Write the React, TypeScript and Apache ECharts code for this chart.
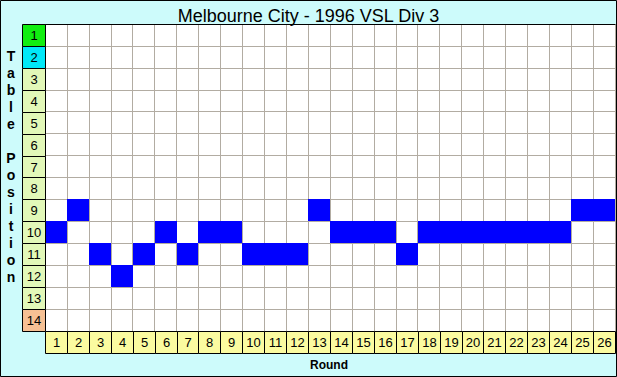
import React, { useEffect, useRef } from "react";
import * as echarts from "echarts";

const rounds: string[] = Array.from({ length: 26 }, (_, i) => String(i + 1));
const positions: string[] = Array.from({ length: 14 }, (_, i) => String(i + 1));
// Table position after each round
const tablePosition: number[] = [10, 9, 11, 12, 11, 10, 11, 10, 10, 11, 11, 11, 9, 10, 10, 10, 11, 10, 10, 10, 10, 10, 10, 10, 9, 9];
const positionColors: string[] = [
  "#11ee11", "#00e8f8", "#e2f8b8", "#e2f8b8", "#e2f8b8", "#e2f8b8", "#e2f8b8",
  "#e2f8b8", "#e2f8b8", "#e2f8b8", "#e2f8b8", "#e2f8b8", "#e2f8b8", "#f6c094",
];
const roundColor = "#fbfba0";
const titleText = "Melbourne City - 1996 VSL Div 3";
const yTitle = "Table Position";
const xTitle = "Round";

const FONT = "Liberation Sans, Arial, sans-serif";

function cellRender(getFill: (idx: number) => string, getText: (idx: number) => string, stroke: string | null) {
  return (params: any, api: any) => {
    const x = api.value(0);
    const y = api.value(1);
    const c = api.coord([x, y]);
    const s = api.size([1, 1]);
    const idx = params.dataIndex;
    const x0 = Math.round(c[0] - s[0] / 2) + (stroke ? 0.5 : 0);
    const y0 = Math.round(c[1] - s[1] / 2) + (stroke ? 0.5 : 0);
    const w = Math.round(c[0] + s[0] / 2) - Math.round(c[0] - s[0] / 2);
    const h = Math.round(c[1] + s[1] / 2) - Math.round(c[1] - s[1] / 2);
    const txt = getText(idx);
    return {
      type: "rect",
      shape: { x: x0, y: y0, width: w, height: h },
      style: stroke
        ? { fill: getFill(idx), stroke, lineWidth: 1 }
        : { fill: getFill(idx) },
      textContent: txt
        ? { style: { text: txt, fill: "#000", font: `13px ${FONT}` } }
        : undefined,
      textConfig: txt ? { position: "inside" } : undefined,
    };
  };
}

export default function App() {
  const ref = useRef<HTMLDivElement>(null);
  useEffect(() => {
    if (!ref.current) return;
    const chart = echarts.init(ref.current, null, { renderer: "svg" });
    const blueData = tablePosition.map((p, i) => [String(i + 1), String(p)]);
    const leftData = positions.map((p) => ["0", p]);
    const bottomData = rounds.map((r) => [r, "0"]);
    const gridLine = { show: true, interval: 0, lineStyle: { color: "#b2aca2", width: 1 } };
    const letters = yTitle.split("").map((ch) => (ch === " " ? "\u00a0" : ch));
    chart.setOption({
      animation: false,
      backgroundColor: "#cdfbfb",
      title: {
        text: titleText,
        left: "center",
        top: 2,
        textStyle: { fontFamily: FONT, fontSize: 18, fontWeight: "normal", color: "#000" },
      },
      grid: [
        { left: 45, top: 24, width: 570, height: 307, backgroundColor: "#fff", show: true, borderWidth: 0 },
        { left: 22, top: 24, width: 23, height: 307 },
        { left: 45, top: 331, width: 570, height: 22 },
      ],
      xAxis: [
        {
          gridIndex: 0, type: "category", data: rounds, position: "top",
          axisLine: { show: true, lineStyle: { color: "#000", width: 1 } },
          axisTick: { show: false }, axisLabel: { show: false }, splitLine: gridLine,
        },
        { gridIndex: 1, type: "category", data: ["0"], show: false },
        { gridIndex: 2, type: "category", data: rounds, show: false },
      ],
      yAxis: [
        {
          gridIndex: 0, type: "category", data: positions, inverse: true,
          axisLine: { show: false }, axisTick: { show: false }, axisLabel: { show: false }, splitLine: gridLine,
        },
        { gridIndex: 1, type: "category", data: positions, inverse: true, show: false },
        { gridIndex: 2, type: "category", data: ["0"], show: false },
      ],
      series: [
        {
          type: "custom", xAxisIndex: 0, yAxisIndex: 0, data: blueData,
          renderItem: cellRender(() => "#0000ff", () => "", null),
        },
        {
          type: "custom", xAxisIndex: 1, yAxisIndex: 1, data: leftData,
          renderItem: cellRender((i) => positionColors[i], (i) => positions[i], "#000"),
        },
        {
          type: "custom", xAxisIndex: 2, yAxisIndex: 2, data: bottomData,
          renderItem: cellRender(() => roundColor, (i) => rounds[i], "#000"),
        },
      ],
      graphic: [
        {
          type: "group",
          children: letters.map((ch, i) => ({
            type: "text",
            x: 11,
            y: 56 + i * 17,
            style: {
              text: ch,
              font: `bold 14px ${FONT}`,
              fill: "#000",
              align: "center",
              verticalAlign: "middle",
            },
          })),
        },
        {
          type: "text", left: 310, top: 359,
          style: { text: xTitle, font: `bold 12px ${FONT}`, fill: "#000" },
        },
        {
          type: "rect", shape: { x: 0.5, y: 0.5, width: 616, height: 376 },
          style: { fill: "none", stroke: "#000", lineWidth: 1 }, silent: true,
        },
      ],
    });
    return () => chart.dispose();
  }, []);
  return <div ref={ref} style={{ position: "fixed", left: 0, top: 0, width: 617, height: 377 }} />;
}
